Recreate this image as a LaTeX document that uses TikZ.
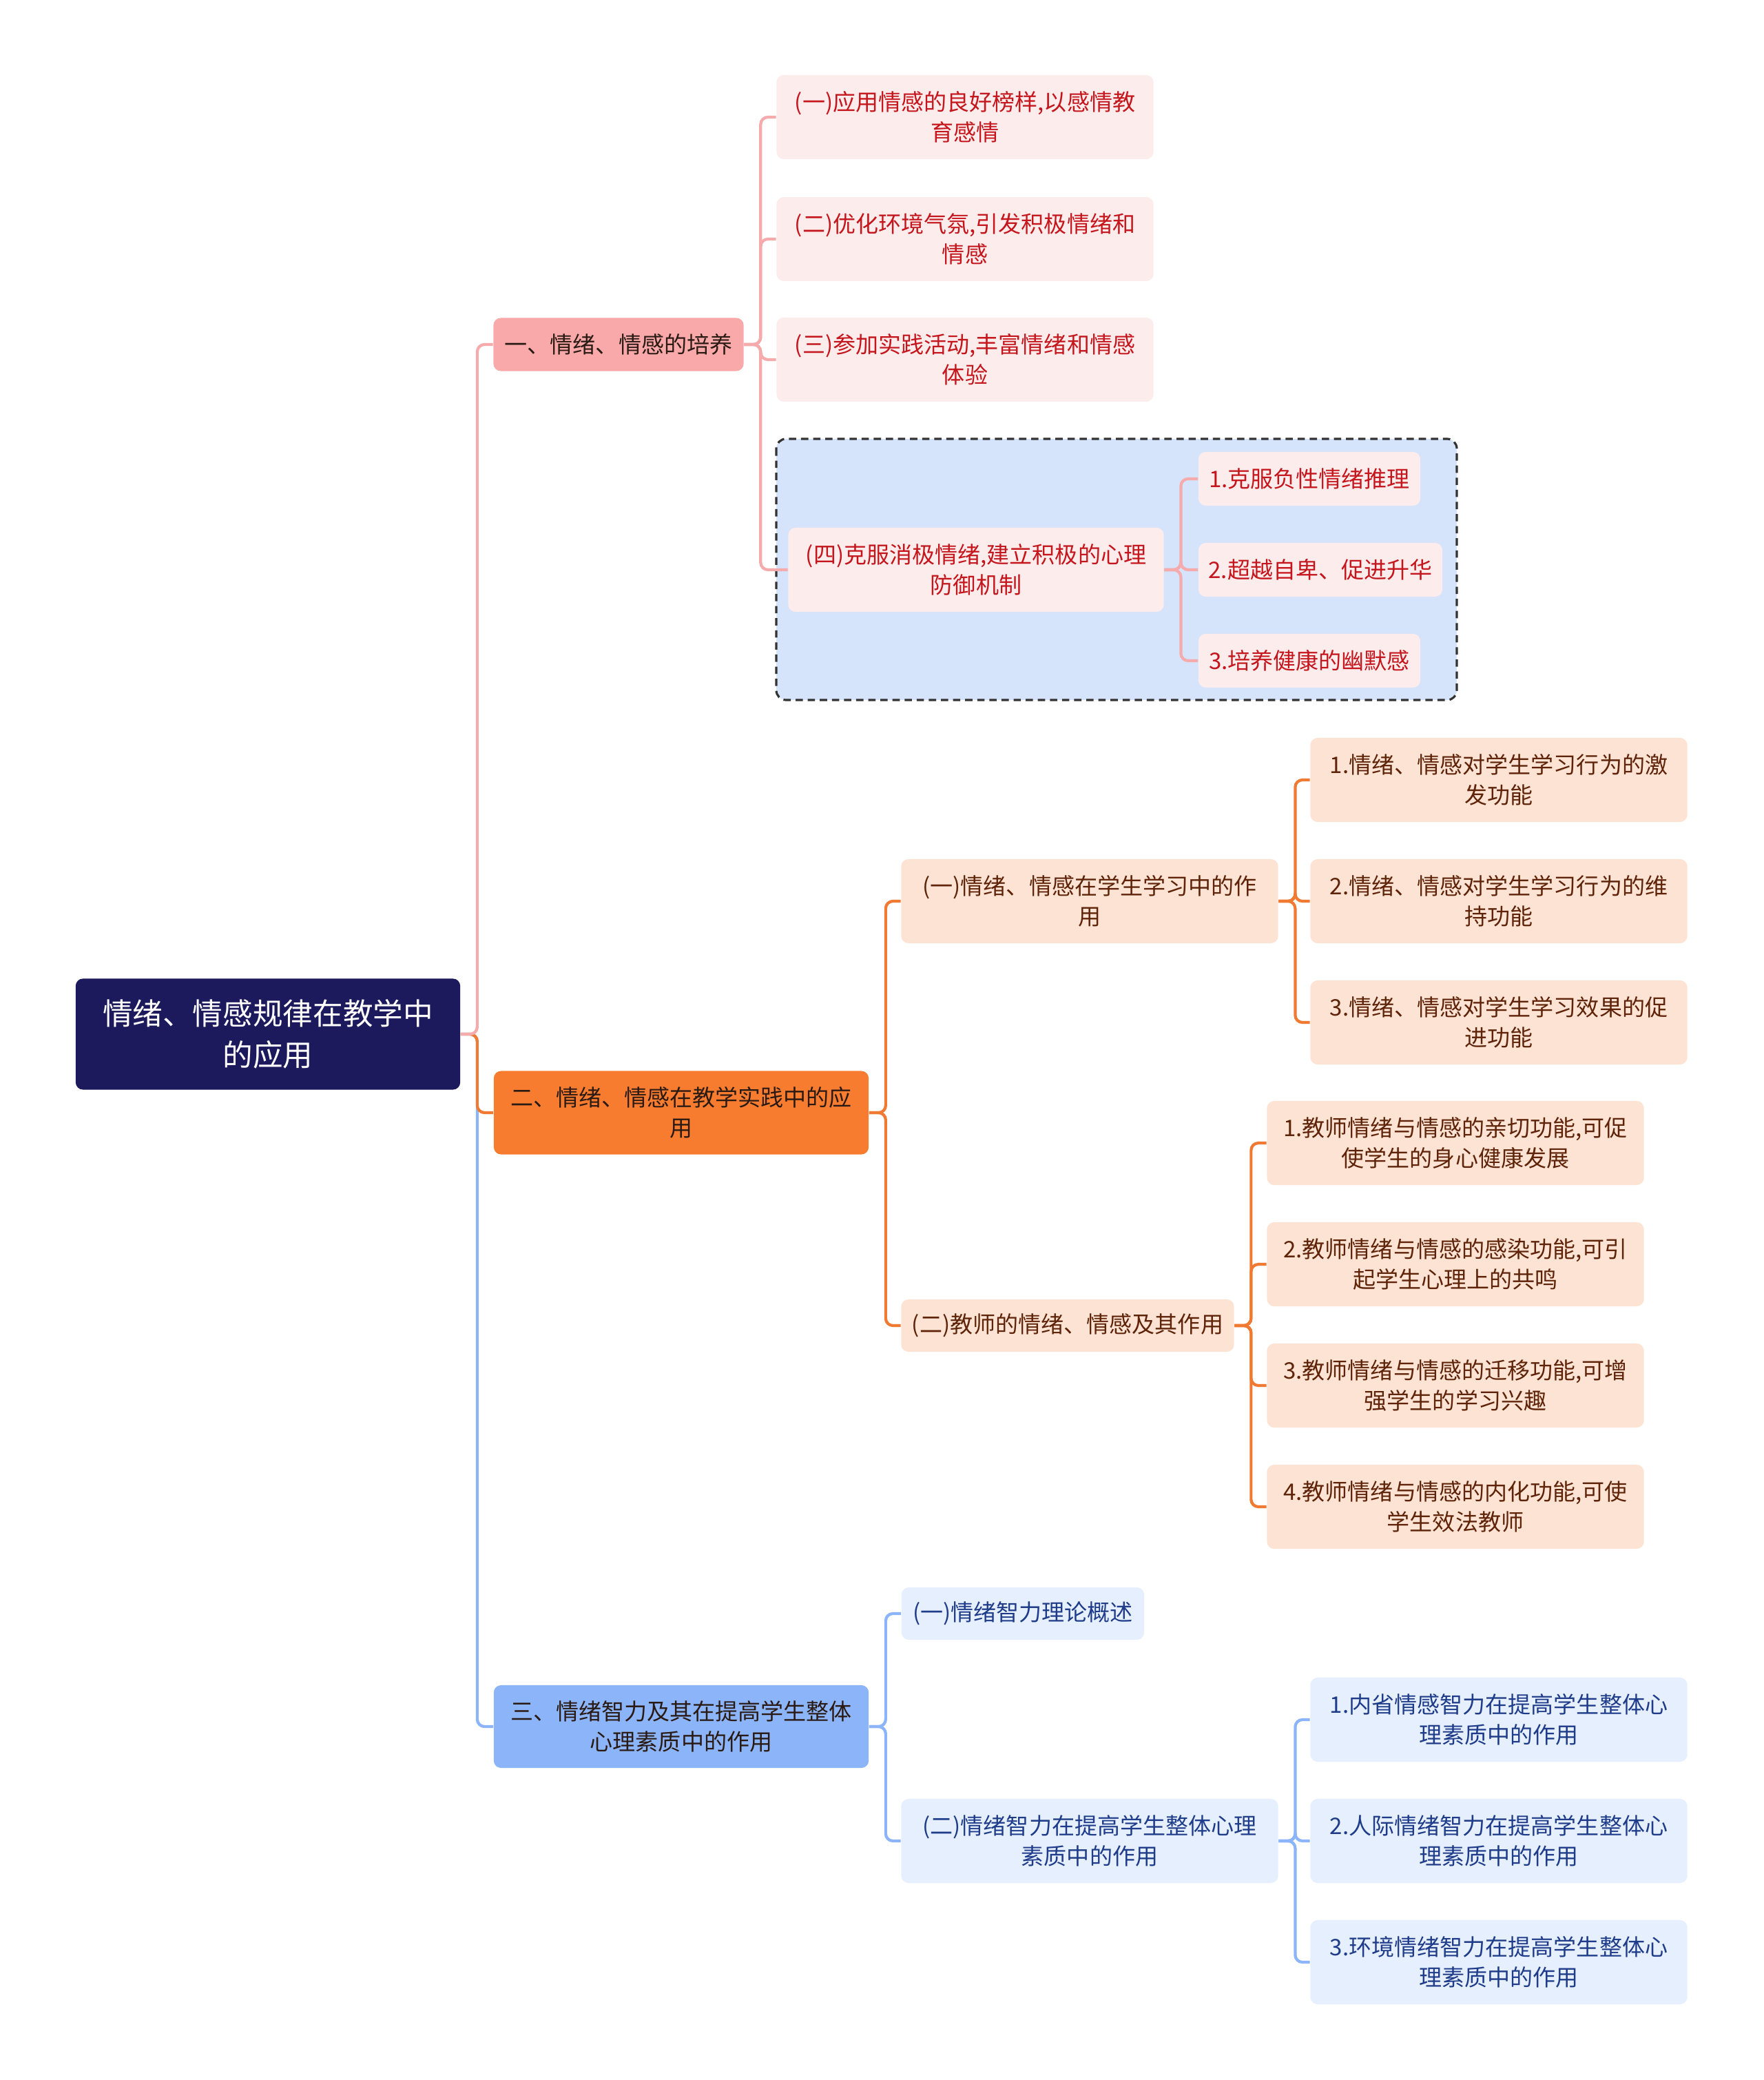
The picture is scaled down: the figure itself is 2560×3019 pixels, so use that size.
\documentclass[tikz,border=0pt]{standalone}
\usepackage{fontspec}
\setmainfont{Noto Sans CJK SC}
\usepackage{tikz}
\usetikzlibrary{positioning}
\usepackage{xcolor}
\definecolor{rootfill}{HTML}{1C1A5C}
\definecolor{pinkmain}{HTML}{F9A9A9}
\definecolor{pinkleaf}{HTML}{FDECEC}
\definecolor{pinktext}{HTML}{C4161C}
\definecolor{pinkline}{HTML}{F5ABAB}
\definecolor{orangemain}{HTML}{F87C2F}
\definecolor{orangeleaf}{HTML}{FDE3D3}
\definecolor{orangetext}{HTML}{5E2308}
\definecolor{orangeline}{HTML}{F07A32}
\definecolor{bluemain}{HTML}{8CB4F8}
\definecolor{blueleaf}{HTML}{E6EFFD}
\definecolor{bluetext}{HTML}{1F3C8A}
\definecolor{blueline}{HTML}{8CB4F8}
\definecolor{framefill}{HTML}{D5E3FB}
\definecolor{maintext}{HTML}{2A1A14}

\begin{document}
\begin{tikzpicture}[x=0.01cm,y=-0.01cm,
    box/.style={rectangle,rounded corners=3pt,inner sep=0pt,align=center,
      font=\fontsize{9.4}{12.5}\selectfont},
    rootbox/.style={box,fill=rootfill,text=white,font=\fontsize{12.4}{17}\selectfont,
      minimum width=5.58cm,minimum height=1.61cm},
    pinkhead/.style={box,fill=pinkmain,text=maintext},
    pinkitem/.style={box,fill=pinkleaf,text=pinktext},
    orangehead/.style={box,fill=orangemain,text=maintext},
    orangeitem/.style={box,fill=orangeleaf,text=orangetext},
    bluehead/.style={box,fill=bluemain,text=maintext},
    blueitem/.style={box,fill=blueleaf,text=bluetext},
    wide/.style={minimum width=5.47cm,minimum height=1.22cm},
    pinkedge/.style={draw=pinkline,line width=1.2pt,rounded corners=3pt},
    orangeedge/.style={draw=orangeline,line width=1.2pt,rounded corners=3pt},
    blueedge/.style={draw=blueline,line width=1.2pt,rounded corners=3pt},
    groupframe/.style={fill=framefill,draw=black!80,line width=0.9pt,
      dash pattern=on 3pt off 2pt,rounded corners=4pt}]
  \useasboundingbox (0,0) rectangle (2560,3019);

  % dashed group behind (四)
  \draw[groupframe] (1127,637) rectangle (2115,1016);

  \node[rootbox] (root) at (389,1501) {情绪、情感规律在教学中\\的应用};

  % 一
  \node[pinkhead,minimum width=3.63cm,minimum height=0.77cm] (pc) at (898,500) {一、情绪、情感的培养};
  \node[pinkitem,wide] (pc1) at (1401,170) {(一)应用情感的良好榜样,以感情教\\育感情};
  \node[pinkitem,wide] (pc2) at (1401,347) {(二)优化环境气氛,引发积极情绪和\\情感};
  \node[pinkitem,wide] (pc3) at (1401,522) {(三)参加实践活动,丰富情绪和情感\\体验};
  \node[pinkitem,minimum width=5.45cm,minimum height=1.22cm] (pc4) at (1417,827) {(四)克服消极情绪,建立积极的心理\\防御机制};
  \node[pinkitem,minimum width=3.22cm,minimum height=0.78cm] (pc4a) at (1901,695) {1.克服负性情绪推理};
  \node[pinkitem,minimum width=3.54cm,minimum height=0.78cm] (pc4b) at (1917,827) {2.超越自卑、促进升华};
  \node[pinkitem,minimum width=3.22cm,minimum height=0.78cm] (pc4c) at (1901,959) {3.培养健康的幽默感};

  % 二
  \node[orangehead,minimum width=5.44cm,minimum height=1.21cm] (ot) at (989,1615) {二、情绪、情感在教学实践中的应\\用};
  \node[orangeitem,wide] (ot1) at (1582,1308) {(一)情绪、情感在学生学习中的作\\用};
  \node[orangeitem,wide] (ot1a) at (2176,1132) {1.情绪、情感对学生学习行为的激\\发功能};
  \node[orangeitem,wide] (ot1b) at (2176,1308) {2.情绪、情感对学生学习行为的维\\持功能};
  \node[orangeitem,wide] (ot1c) at (2176,1484) {3.情绪、情感对学生学习效果的促\\进功能};
  \node[orangeitem,minimum width=4.83cm,minimum height=0.76cm] (ot2) at (1550,1924) {(二)教师的情绪、情感及其作用};
  \node[orangeitem,wide] (ot2a) at (2113,1659) {1.教师情绪与情感的亲切功能,可促\\使学生的身心健康发展};
  \node[orangeitem,wide] (ot2b) at (2113,1835) {2.教师情绪与情感的感染功能,可引\\起学生心理上的共鸣};
  \node[orangeitem,wide] (ot2c) at (2113,2011) {3.教师情绪与情感的迁移功能,可增\\强学生的学习兴趣};
  \node[orangeitem,wide] (ot2d) at (2113,2187) {4.教师情绪与情感的内化功能,可使\\学生效法教师};

  % 三
  \node[bluehead,minimum width=5.44cm,minimum height=1.2cm] (eq) at (989,2506) {三、情绪智力及其在提高学生整体\\心理素质中的作用};
  \node[blueitem,minimum width=3.52cm,minimum height=0.76cm] (eq1) at (1485,2342) {(一)情绪智力理论概述};
  \node[blueitem,wide] (eq2) at (1582,2672) {(二)情绪智力在提高学生整体心理\\素质中的作用};
  \node[blueitem,wide] (eq2a) at (2176,2496) {1.内省情感智力在提高学生整体心\\理素质中的作用};
  \node[blueitem,wide] (eq2b) at (2176,2672) {2.人际情绪智力在提高学生整体心\\理素质中的作用};
  \node[blueitem,wide] (eq2c) at (2176,2848) {3.环境情绪智力在提高学生整体心\\理素质中的作用};

  % connectors
  \draw[blueedge] (root.east) -- ++(24,0) |- (eq.west);
  \foreach \c in {eq1,eq2} \draw[blueedge] (eq.east) -- ++(24,0) |- (\c.west);
  \foreach \c in {eq2a,eq2b,eq2c} \draw[blueedge] (eq2.east) -- ++(24,0) |- (\c.west);

  \draw[orangeedge] (root.east) -- ++(24,0) |- (ot.west);
  \foreach \c in {ot1,ot2} \draw[orangeedge] (ot.east) -- ++(24,0) |- (\c.west);
  \foreach \c in {ot1a,ot1b,ot1c} \draw[orangeedge] (ot1.east) -- ++(24,0) |- (\c.west);
  \foreach \c in {ot2a,ot2b,ot2c,ot2d} \draw[orangeedge] (ot2.east) -- ++(24,0) |- (\c.west);

  \draw[pinkedge] (root.east) -- ++(24,0) |- (pc.west);
  \foreach \c in {pc1,pc2,pc3,pc4} \draw[pinkedge] (pc.east) -- ++(24,0) |- (\c.west);
  \foreach \c in {pc4a,pc4b,pc4c} \draw[pinkedge] (pc4.east) -- ++(24,0) |- (\c.west);
\end{tikzpicture}
\end{document}
